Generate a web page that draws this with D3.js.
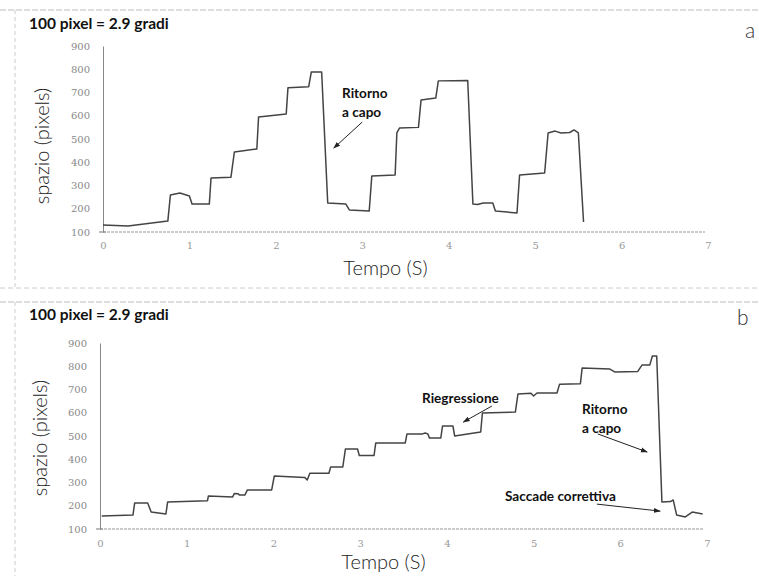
<!DOCTYPE html>
<html>
<head>
<meta charset="utf-8">
<script src="https://cdn.jsdelivr.net/npm/d3@7"></script>
<style>
  body { margin: 0; background: #fff; }
  svg { display: block; }
  text { font-family: "Lato", "DejaVu Sans", sans-serif; }
</style>
</head>
<body>
<div id="chart"></div>
<script>
// tick labels
var xTicks = [0, 1, 2, 3, 4, 5, 6, 7];
var yTicks = [100, 200, 300, 400, 500, 600, 700, 800, 900];

// panel a: time (s) and position (pixels)
var timeA = [0, 0.29, 0.75, 0.78, 0.89, 1.0, 1.03, 1.23, 1.25, 1.48, 1.52, 1.78, 1.80, 2.12, 2.14, 2.38, 2.41, 2.53,
  2.60, 2.81, 2.85, 3.08, 3.11, 3.38, 3.40, 3.43, 3.65, 3.68, 3.85, 3.88, 4.22, 4.28, 4.33, 4.40, 4.51, 4.54, 4.79,
  4.82, 5.11, 5.15, 5.23, 5.30, 5.40, 5.45, 5.50, 5.56];
var spaceA = [130, 126, 147, 259, 268, 255, 220, 220, 332, 335, 444, 457, 595, 608, 720, 725, 788, 788,
  225, 220, 195, 190, 341, 345, 526, 547, 550, 668, 676, 750, 752, 220, 218, 225, 225, 190, 182,
  345, 354, 526, 534, 526, 528, 539, 526, 143];

// panel b
var timeB = [0.02, 0.38, 0.40, 0.55, 0.59, 0.76, 0.78, 1.24, 1.25, 1.53, 1.55, 1.59, 1.61, 1.67, 1.70, 1.98, 2.01,
  2.36, 2.39, 2.42, 2.64, 2.66, 2.80, 2.83, 2.97, 2.99, 3.16, 3.18, 3.52, 3.54, 3.72, 3.75, 3.78, 3.80, 3.93, 3.95,
  4.07, 4.09, 4.39, 4.41, 4.79, 4.82, 4.97, 5.00, 5.04, 5.27, 5.30, 5.54, 5.56, 5.88, 5.94, 6.20, 6.25, 6.34, 6.37,
  6.42, 6.48, 6.58, 6.61, 6.65, 6.75, 6.83, 6.95];
var spaceB = [156, 160, 212, 212, 173, 165, 216, 222, 242, 238, 253, 252, 246, 246, 268, 268, 328,
  322, 311, 340, 340, 367, 367, 444, 444, 416, 416, 470, 470, 509, 509, 513, 509, 491, 491, 543,
  543, 500, 517, 599, 603, 681, 684, 672, 685, 685, 723, 725, 792, 788, 775, 777, 805, 805, 844,
  844, 216, 218, 225, 160, 152, 173, 165];

var W = 759, H = 576;
var svg = d3.select("#chart").append("svg").attr("width", W).attr("height", H);

var defs = svg.append("defs");
defs.append("marker")
  .attr("id", "arrow")
  .attr("viewBox", "0 0 10 10")
  .attr("refX", 9).attr("refY", 5)
  .attr("markerWidth", 7).attr("markerHeight", 7)
  .attr("orient", "auto")
  .append("path")
  .attr("d", "M0,1.5 L10,5 L0,8.5 Z")
  .attr("fill", "#222");

// scanned-page frame lines
function frame(top, bottom) {
  svg.append("line")
    .attr("x1", 0).attr("x2", W).attr("y1", top).attr("y2", top)
    .attr("stroke", "#bbb").attr("stroke-width", 1).attr("stroke-dasharray", "6,2");
  svg.append("line")
    .attr("x1", 15).attr("x2", 15).attr("y1", top).attr("y2", bottom)
    .attr("stroke", "#ccc").attr("stroke-width", 1).attr("stroke-dasharray", "4,3");
}
frame(10, 287);
svg.append("line")
  .attr("x1", 0).attr("x2", W).attr("y1", 288).attr("y2", 288)
  .attr("stroke", "#ccc").attr("stroke-width", 1).attr("stroke-dasharray", "5,3");
frame(302, H);

function panel(opts) {
  var x = d3.scaleLinear().domain([0, 7]).range([opts.x0, opts.x1]);
  var y = d3.scaleLinear().domain([100, 900]).range([opts.y0, opts.y1]);
  var g = svg.append("g");

  // header and panel letter
  g.append("text")
    .attr("x", 29).attr("y", opts.headY)
    .attr("font-size", "15.5px").attr("font-weight", "bold").attr("fill", "#111")
    .text("100 pixel = 2.9 gradi");
  g.append("text")
    .attr("x", opts.letterX).attr("y", opts.letterY)
    .attr("font-size", "21px").attr("font-weight", "300").attr("fill", "#333")
    .text(opts.letter);

  // y axis
  var yAxis = g.append("g")
    .attr("transform", "translate(" + opts.x0 + ",0)")
    .call(d3.axisLeft(y).tickValues(yTicks).tickSize(0).tickPadding(13));
  yAxis.select(".domain").attr("stroke", "#888").attr("stroke-width", 1);
  yAxis.selectAll("text").attr("fill", "#888").attr("font-size", "10px")
    .style("font-family", "'DejaVu Serif', serif");
  g.append("line")
    .attr("x1", opts.x0 - 4).attr("x2", opts.x0 + 3)
    .attr("y1", y(100)).attr("y2", y(100))
    .attr("stroke", "#777");

  // x axis (dashed baseline)
  var xAxis = g.append("g")
    .attr("transform", "translate(0," + y(100) + ")")
    .call(d3.axisBottom(x).tickValues(xTicks).tickFormat(d3.format("d")).tickSize(0).tickPadding(opts.xPad));
  xAxis.select(".domain").attr("stroke", "#999").attr("stroke-dasharray", "3,1")
    .attr("d", "M" + opts.x0 + ",0H" + (opts.x1 - 3));
  xAxis.selectAll("text").attr("fill", "#999").attr("font-size", "10px")
    .style("font-family", "'DejaVu Serif', serif");

  // axis titles
  g.append("text")
    .attr("x", (opts.x0 + opts.x1) / 2 - 20).attr("y", opts.titleY)
    .attr("text-anchor", "middle")
    .attr("font-size", "20px").attr("font-weight", "300").attr("fill", "#222")
    .text("Tempo (S)");
  g.append("text")
    .attr("transform", "translate(" + opts.ylabX + "," + opts.ylabY + ") rotate(-90)")
    .attr("text-anchor", "middle")
    .attr("font-size", "20px").attr("font-weight", "300").attr("fill", "#222")
    .text("spazio (pixels)");

  // trace
  var pts = opts.t.map(function(d, i) { return [d, opts.v[i]]; });
  g.append("path")
    .datum(pts)
    .attr("fill", "none")
    .attr("stroke", "#444")
    .attr("stroke-width", 1.5)
    .attr("stroke-linejoin", "round")
    .attr("d", d3.line().x(function(d) { return x(d[0]); }).y(function(d) { return y(d[1]); }));

  // annotations
  opts.notes.forEach(function(n) {
    var t = g.append("text")
      .attr("font-size", "13.6px").attr("font-weight", "bold").attr("fill", "#111");
    n.lines.forEach(function(s, i) {
      t.append("tspan").attr("x", n.tx).attr("y", n.ty + i * 19).text(s);
    });
    g.append("line")
      .attr("x1", x(n.a[0])).attr("y1", y(n.a[1]))
      .attr("x2", x(n.b[0])).attr("y2", y(n.b[1]))
      .attr("stroke", "#222").attr("stroke-width", 1)
      .attr("marker-end", "url(#arrow)");
  });
}

panel({
  x0: 103, x1: 708, y0: 232, y1: 46,
  headY: 29, letter: "a", letterX: 745, letterY: 38,
  xPad: 10, titleY: 275, ylabX: 49, ylabY: 146,
  t: timeA, v: spaceA,
  notes: [
    { lines: ["Ritorno", "a capo"], tx: 342, ty: 98, a: [3.0, 573], b: [2.67, 461] }
  ]
});

panel({
  x0: 100, x1: 707, y0: 529, y1: 343,
  headY: 320, letter: "b", letterX: 737, letterY: 325,
  xPad: 11, titleY: 569, ylabX: 47, ylabY: 438,
  t: timeB, v: spaceB,
  notes: [
    { lines: ["Riegressione"], tx: 422, ty: 403, a: [4.52, 629], b: [4.19, 560] },
    { lines: ["Ritorno", "a capo"], tx: 582, ty: 414, a: [5.74, 509], b: [6.31, 431] },
    { lines: ["Saccade correttiva"], tx: 505, ty: 501, a: [5.73, 207], b: [6.46, 177] }
  ]
});
</script>
</body>
</html>
